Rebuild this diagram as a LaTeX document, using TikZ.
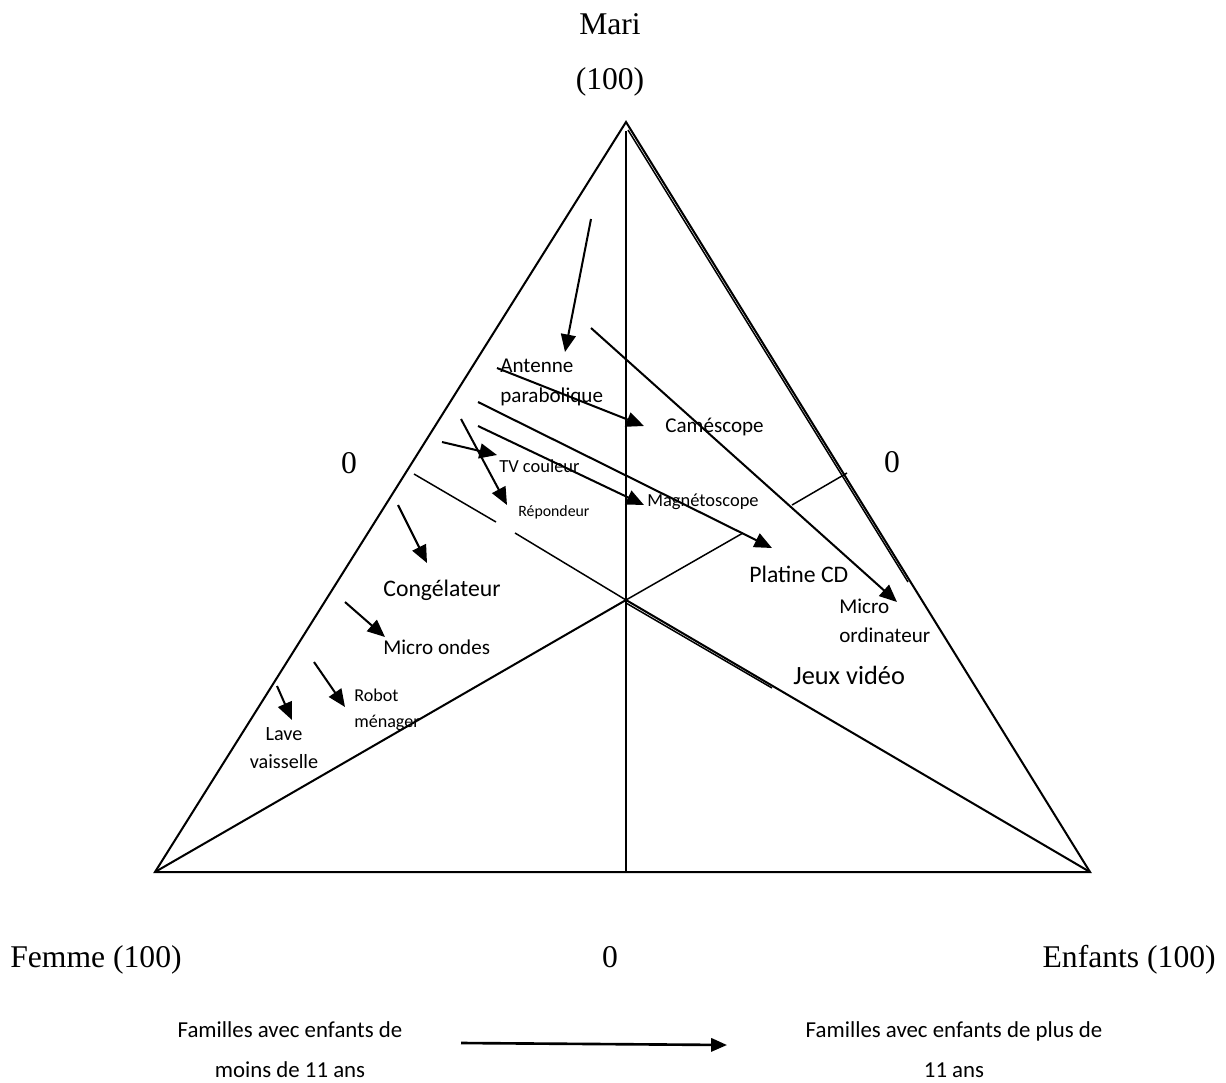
\documentclass[tikz,border=0pt]{standalone}
\usepackage{fontspec}
\setmainfont{Liberation Serif}
\newfontfamily\calibri{Carlito}
\usetikzlibrary{arrows.meta}

\begin{document}
\begin{tikzpicture}[x=0.02cm,y=-0.02cm,
  cote/.style={line width=1.15pt},
  axe/.style={line width=0.85pt},
  fleche/.style={line width=1.15pt,-{Triangle[length=10pt,width=8.5pt]}},
  lbl/.style 2 args={inner sep=0pt,align=left,font=\calibri\fontsize{#1}{#2}\selectfont},
  pole/.style={inner sep=0pt,font=\fontsize{18}{22}\selectfont}]
  \useasboundingbox (0,0) rectangle (1226,1082);

  % sommets et centre
  \coordinate (mari) at (626,122);
  \coordinate (femme) at (155,872);
  \coordinate (enfants) at (1090,872);
  \coordinate (centre) at (626,600);
  \coordinate (base) at (626,872);

  % triangle
  \draw[cote] (mari) -- (femme) -- (enfants) -- cycle;
  \draw[axe] (628,130) -- (908,582);
  \draw[axe] (626,131) -- (base);
  \draw[cote] (femme) -- (centre) -- (enfants);
  \draw[axe] (626,603) -- (772,688);

  % droites issues du centre
  \coordinate (g1) at (414,474);
  \coordinate (g2) at (496,522);
  \coordinate (g3) at (515,533);
  \coordinate (d1) at (743,533);
  \coordinate (d2) at (792,505);
  \coordinate (d3) at (847,473);
  \draw[axe] (g1) -- (g2);
  \draw[axe] (g3) -- (centre) -- (d1);
  \draw[axe] (d2) -- (d3);

  % evolutions
  \coordinate (s1) at (591,219);  \coordinate (t1) at (565,352);
  \coordinate (s2) at (497,368);  \coordinate (t2) at (644,426);
  \coordinate (s3) at (591,328);  \coordinate (t3) at (897,602);
  \coordinate (s4) at (478,402);  \coordinate (t4) at (772,548);
  \coordinate (s5) at (478,426);  \coordinate (t5) at (644,505);
  \coordinate (s6) at (442,442);  \coordinate (t6) at (497,455);
  \coordinate (s7) at (461,419);  \coordinate (t7) at (507,505);
  \coordinate (s8) at (398,505);  \coordinate (t8) at (427,563);
  \coordinate (s9) at (345,602);  \coordinate (t9) at (385,637);
  \coordinate (s10) at (314,662); \coordinate (t10) at (345,707);
  \coordinate (s11) at (277,686); \coordinate (t11) at (292,720);
  \draw[fleche] (s1) -- (t1);
  \draw[fleche] (s2) -- (t2);
  \draw[fleche] (s3) -- (t3);
  \draw[fleche] (s4) -- (t4);
  \draw[fleche] (s5) -- (t5);
  \draw[fleche] (s6) -- (t6);
  \draw[fleche] (s7) -- (t7);
  \draw[fleche] (s8) -- (t8);
  \draw[fleche] (s9) -- (t9);
  \draw[fleche] (s10) -- (t10);
  \draw[fleche] (s11) -- (t11);

  % produits
  \node[lbl={12}{17},anchor=west] (antenne) at (500,382) {Antenne\\parabolique};
  \node[lbl={12}{17},anchor=west] (camescope) at (665,427) {Caméscope};
  \node[lbl={10.5}{13},anchor=west] (tv) at (499,466) {TV couleur};
  \node[lbl={9}{11},anchor=west] (repondeur) at (518,512) {Répondeur};
  \node[lbl={10.5}{13},anchor=west] (magneto) at (647,502) {Magnétoscope};
  \node[lbl={13.5}{16},anchor=west] (platine) at (749,574) {Platine CD};
  \node[lbl={12}{16.4},anchor=west] (micro) at (839,621) {Micro\\ordinateur};
  \node[lbl={15}{18},anchor=west] (jeux) at (793,675) {Jeux vidéo};
  \node[lbl={13.5}{16},anchor=west] (congel) at (383,590) {Congélateur};
  \node[lbl={12}{15},anchor=west] (ondes) at (383,647) {Micro ondes};
  \node[lbl={10.3}{14.7},anchor=west] (robot) at (354,710) {Robot\\ménager};
  \node[lbl={11.5}{16.4},align=center] (lave) at (284,748) {Lave\\vaisselle};

  % poles
  \node[pole] (nmari) at (610,24) {Mari};
  \node[pole] (nmaricent) at (610,82) {(100)};
  \node[pole] (zg) at (349,463) {0};
  \node[pole] (zd) at (892,462) {0};
  \node[pole,anchor=base] (zb) at (610,967) {0};
  \node[pole,anchor=base west] (nfemme) at (10,967) {Femme (100)};
  \node[pole,anchor=base east] (nenfants) at (1216,967) {Enfants (100)};

  % legende
  \node[lbl={13}{22.7},align=center] (avant) at (290,1050) {Familles avec enfants de\\moins de 11 ans};
  \node[lbl={13}{22.7},align=center] (apres) at (954,1050) {Familles avec enfants de plus de\\11 ans};
  \coordinate (l1) at (461,1043);
  \coordinate (l2) at (727,1045);
  \draw[line width=1.5pt,-{Triangle[length=9pt,width=7.5pt]}] (l1) -- (l2);
\end{tikzpicture}
\end{document}
